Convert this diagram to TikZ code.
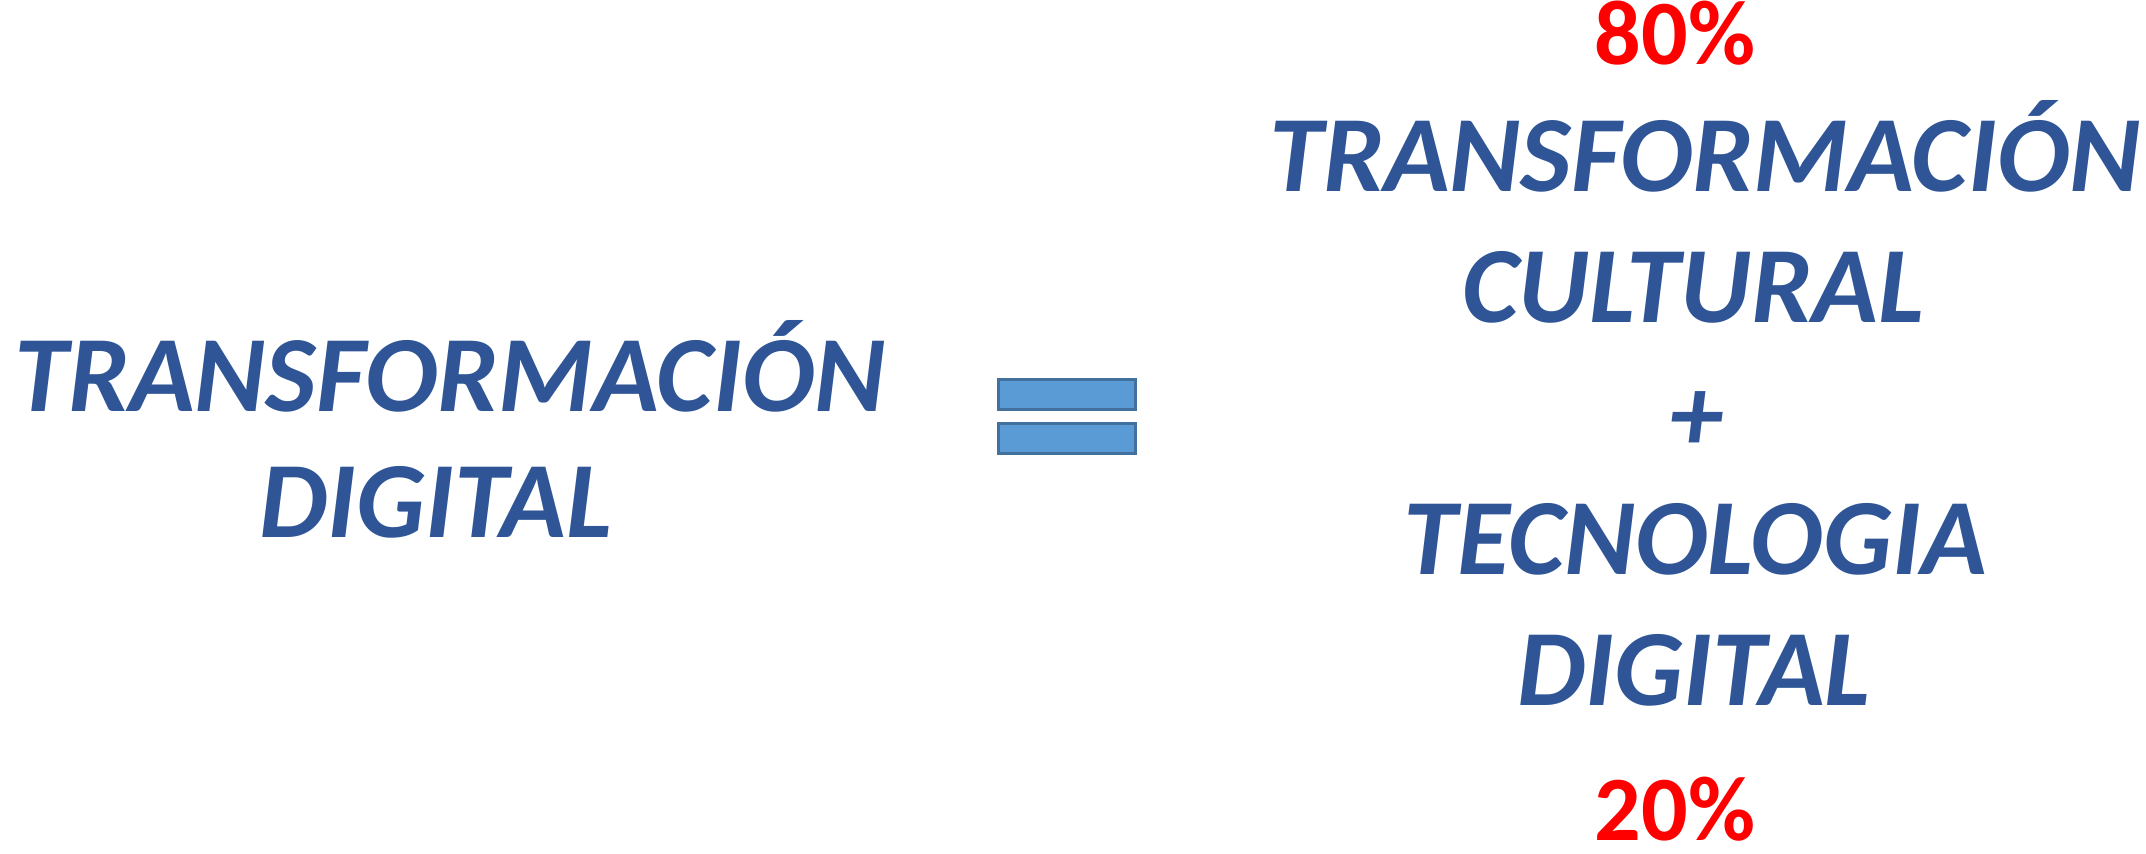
\documentclass[tikz,border=0pt]{standalone}
\usepackage{fontspec}
\setmainfont{Carlito}
\usepackage{tikz}
\definecolor{myblue}{RGB}{47,85,151}
\definecolor{barfill}{RGB}{91,155,213}
\definecolor{barline}{RGB}{65,113,156}
\definecolor{myred}{RGB}{255,0,0}

\tikzset{
  word/.style={anchor=base, inner sep=0pt, text=myblue,
    font=\fontsize{54.2}{65}\selectfont\bfseries\itshape},
  percent/.style={anchor=base, inner sep=0pt, text=myred,
    font=\fontsize{46}{55}\selectfont\bfseries},
  bar/.style={draw=barline, fill=barfill, line width=1.5pt}
}

\begin{document}
\begin{tikzpicture}[x=0.5pt, y=-0.5pt]
    \useasboundingbox (0,0) rectangle (2146,854);

    % left side
    \node[word] (L1) at (450,412) {TRANSFORMACIÓN};
    \node[word] (L2) at (436,538) {DIGITAL};

    % equal sign
    \draw[bar] (998,380) rectangle (1135,410);
    \draw[bar] (998,424) rectangle (1135,454);

    % right side
    \node[percent] (P80) at (1675,65) {80\%};
    \node[word] (R1) at (1705,192) {TRANSFORMACIÓN};
    \node[word] (R2) at (1693,323) {CULTURAL};
    \node[word] (R3) at (1696,452) {+};
    \node[word] (R4) at (1695,575) {TECNOLOGIA};
    \node[word] (R5) at (1694,705) {DIGITAL};
    \node[percent] (P20) at (1675,840) {20\%};
\end{tikzpicture}
\end{document}
